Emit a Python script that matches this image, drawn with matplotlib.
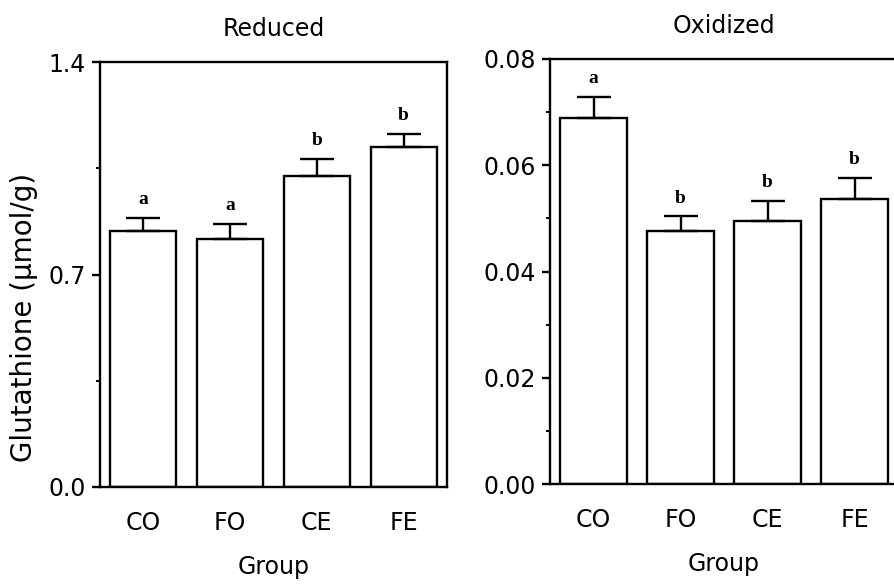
import matplotlib
matplotlib.use("Agg")
import matplotlib.pyplot as plt
from matplotlib.ticker import FixedLocator

groups = ["CO", "FO", "CE", "FE"]
reduced = [0.843, 0.817, 1.024, 1.120]
reduced_err = [0.043, 0.050, 0.056, 0.043]
reduced_letters = ["a", "a", "b", "b"]
oxidized = [0.0689, 0.0476, 0.0495, 0.0536]
oxidized_err = [0.0040, 0.0028, 0.0038, 0.0040]
oxidized_letters = ["a", "b", "b", "b"]

W, H = 894, 584
fig = plt.figure(figsize=(W / 100, H / 100), dpi=100)
plt.rcParams['font.family'] = ['DejaVu Sans']

ax1 = fig.add_axes([100 / W, (H - 487) / H, 347 / W, 425 / H])
ax2 = fig.add_axes([550 / W, (H - 484) / H, 348 / W, 425 / H])

def panel(ax, vals, errs, letters, ymax, major, minor, fmt, title, letter_off):
    x = list(range(len(groups)))
    ax.bar(x, vals, width=0.76, color="white", edgecolor="black", linewidth=1.7, zorder=2)
    ax.errorbar(x, vals, yerr=[[0] * len(errs), errs], fmt="none", ecolor="black",
                elinewidth=1.7, capsize=12, capthick=1.7, zorder=3)
    for xi, v, e, L in zip(x, vals, errs, letters):
        ax.annotate(L, (xi, v + e), xytext=(0, letter_off), textcoords="offset points",
                    ha="center", va="bottom", fontsize=14, fontweight="bold",
                    family="Liberation Serif")
    ax.set_xlim(-0.5, 3.5)
    ax.set_ylim(0, ymax)
    ax.set_yticks(major)
    ax.set_yticklabels([fmt.format(t) for t in major])
    ax.yaxis.set_minor_locator(FixedLocator(minor))
    ax.set_xticks(x)
    ax.set_xticklabels(groups)
    ax.tick_params(axis="x", length=0, pad=17, labelsize=17)
    ax.tick_params(axis="y", which="major", length=6, width=1.7, direction="out",
                   pad=4, labelsize=17)
    ax.tick_params(axis="y", which="minor", length=3, width=1.4, direction="out")
    for s in ax.spines.values():
        s.set_linewidth(1.7)
    ax.set_title(title, fontsize=17, pad=19)
    ax.set_xlabel("Group", fontsize=17, labelpad=15)

panel(ax1, reduced, reduced_err, reduced_letters, 1.4, [0.0, 0.7, 1.4], [0.35, 1.05],
      "{:.1f}", "Reduced", 7)
panel(ax2, oxidized, oxidized_err, oxidized_letters, 0.08, [0.0, 0.02, 0.04, 0.06, 0.08],
      [0.01, 0.03, 0.05, 0.07], "{:.2f}", "Oxidized", 7)

ax1.set_ylabel("Glutathione (\u03bcmol/g)", fontsize=20)
ax1.yaxis.set_label_coords(-0.18, 0.40)

fig.savefig("out.png", dpi=100)
